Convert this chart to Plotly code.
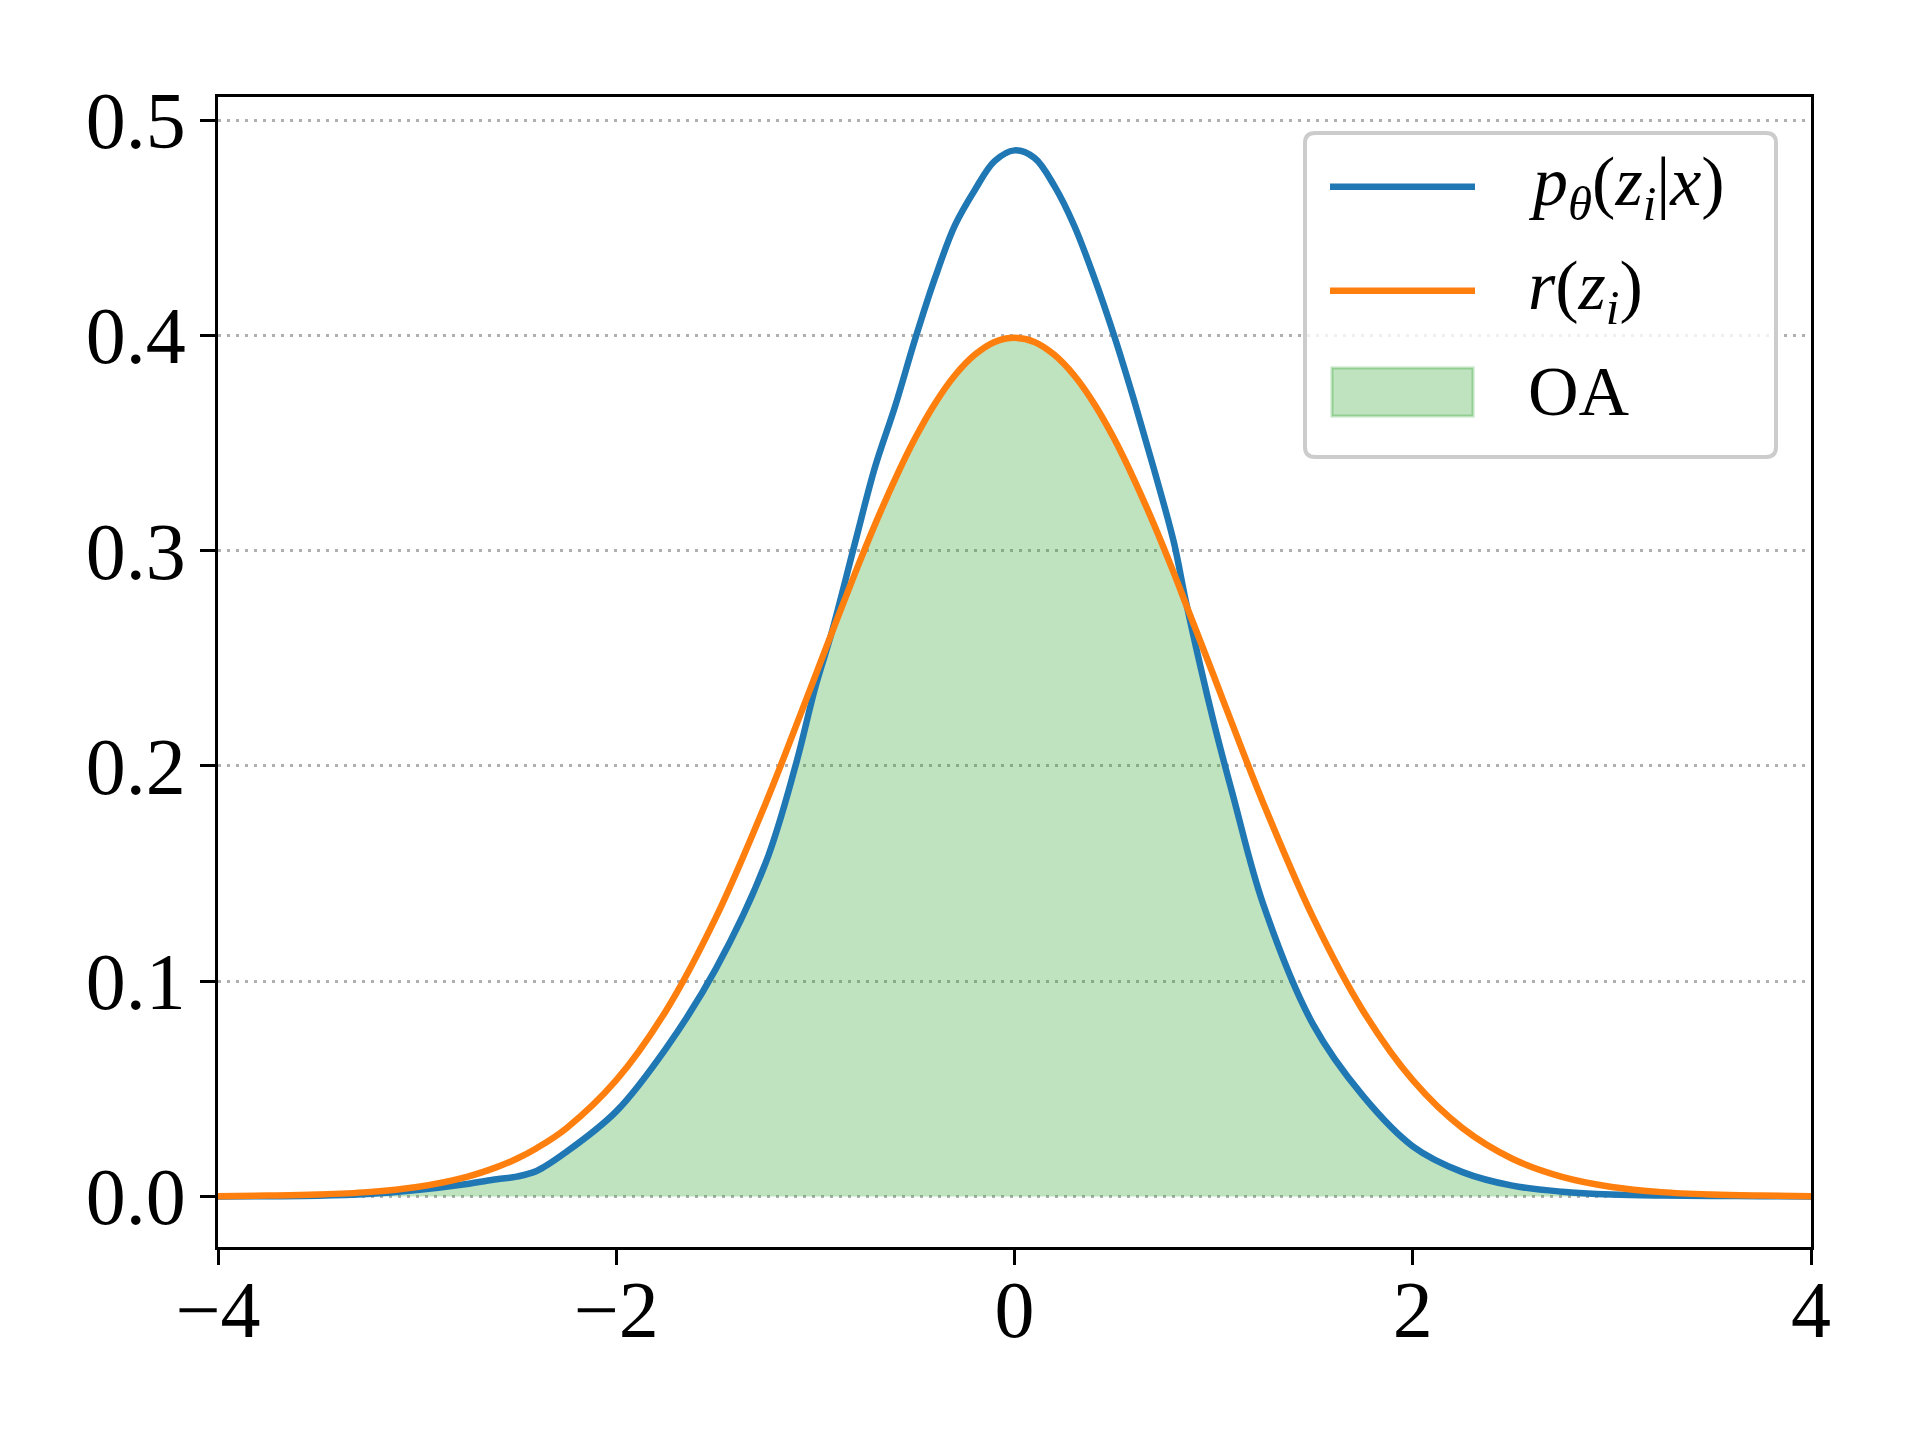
"""Overlapping area between p_theta(z_i|x) and r(z_i)"""

import numpy as np
import plotly.graph_objects as go

# DONNEES
z_grid = [-4.0, -3.75, -3.5, -3.25, -3.0, -2.75, -2.6, -2.5, -2.4, -2.25,
          -2.0, -1.75, -1.5, -1.25, -1.1, -1.0, -0.918, -0.8, -0.7, -0.6,
          -0.5, -0.4, -0.3, -0.2, -0.1, 0.0, 0.1, 0.2, 0.3, 0.4,
          0.5, 0.6, 0.7, 0.8, 0.864, 1.0, 1.1, 1.25, 1.5, 1.75,
          2.0, 2.25, 2.5, 2.75, 3.0, 3.25, 3.5, 3.75, 4.0]

p_theta = [0.0, 0.0001, 0.0003, 0.0011, 0.0030, 0.0058, 0.0080, 0.0092, 0.0118, 0.0207,
           0.0395, 0.0688, 0.1057, 0.1549, 0.2000, 0.2367, 0.2620, 0.3040, 0.3390, 0.3670,
           0.3980, 0.4265, 0.4510, 0.4675, 0.4810, 0.4860, 0.4825, 0.4695, 0.4510, 0.4270,
           0.4000, 0.3700, 0.3380, 0.3040, 0.2750, 0.2205, 0.1853, 0.1355, 0.0798, 0.0467,
           0.0233, 0.0113, 0.0050, 0.0022, 0.0009, 0.0004, 0.0002, 0.0001, 0.0]

r_prior = [0.0001, 0.0004, 0.0009, 0.0020, 0.0044, 0.0091, 0.0136, 0.0175, 0.0224, 0.0317,
           0.0540, 0.0863, 0.1295, 0.1826, 0.2179, 0.2420, 0.2617, 0.2897, 0.3123, 0.3332,
           0.3521, 0.3683, 0.3814, 0.3910, 0.3970, 0.3989, 0.3970, 0.3910, 0.3814, 0.3683,
           0.3521, 0.3332, 0.3123, 0.2897, 0.2744, 0.2420, 0.2179, 0.1826, 0.1295, 0.0863,
           0.0540, 0.0317, 0.0175, 0.0091, 0.0044, 0.0020, 0.0009, 0.0004, 0.0001]

x_ticks = [-4, -2, 0, 2, 4]
x_ticktext = ["\u22124", "\u22122", "0", "2", "4"]
y_ticks = [0.0, 0.1, 0.2, 0.3, 0.4, 0.5]
y_ticktext = ["0.0", "0.1", "0.2", "0.3", "0.4", "0.5"]

legend_labels = ["<i>p</i><sub><i>\u03b8</i></sub>(<i>z<sub>i</sub></i>|<i>x</i>)",
                 "<i>r</i>(<i>z<sub>i</sub></i>)",
                 "OA"]

# CONSTANTES graphiques
blue = "#1f77b4"
orange = "#ff7f0e"
green_fill = "rgba(44,160,44,0.3)"
font_family = "Liberation Serif"
W, H = 1920, 1440
ml, mr, mt, mb = 218, 109, 97, 193

# aire commune = min des deux densites
overlap = np.minimum(np.array(p_theta), np.array(r_prior))

fig = go.Figure()

fig.add_trace(go.Scatter(x=z_grid, y=overlap, mode="lines", name="OA",
                         line=dict(color=green_fill, width=2, shape="spline"),
                         fill="tozeroy", fillcolor=green_fill, showlegend=False))
fig.add_trace(go.Scatter(x=z_grid, y=p_theta, mode="lines", name="p_theta",
                         line=dict(color=blue, width=6.5, shape="spline"),
                         showlegend=False))
fig.add_trace(go.Scatter(x=z_grid, y=r_prior, mode="lines", name="r",
                         line=dict(color=orange, width=6.5, shape="spline"),
                         showlegend=False))


# legende faite a la main (pixels -> paper)
def px2x(px):
    return (px - ml) / (W - ml - mr)


def py2y(py):
    return (H - mb - py) / (H - mt - mb)


x0, x1 = px2x(1305), px2x(1776)
y0, y1 = py2y(457), py2y(133)
rx, ry = 10 / (W - ml - mr), 10 / (H - mt - mb)
box_path = (f"M{x0 + rx},{y1} L{x1 - rx},{y1} Q{x1},{y1} {x1},{y1 - ry} "
            f"L{x1},{y0 + ry} Q{x1},{y0} {x1 - rx},{y0} "
            f"L{x0 + rx},{y0} Q{x0},{y0} {x0},{y0 + ry} "
            f"L{x0},{y1 - ry} Q{x0},{y1} {x0 + rx},{y1} Z")
shapes = [dict(type="path", xref="paper", yref="paper", path=box_path,
               fillcolor="rgba(255,255,255,0.8)", line=dict(color="#cccccc", width=4))]

row_y = [186.7, 290.7, 392]
shapes.append(dict(type="line", xref="paper", yref="paper",
                   x0=px2x(1330), x1=px2x(1475), y0=py2y(row_y[0]), y1=py2y(row_y[0]),
                   line=dict(color=blue, width=6.5)))
shapes.append(dict(type="line", xref="paper", yref="paper",
                   x0=px2x(1330), x1=px2x(1475), y0=py2y(row_y[1]), y1=py2y(row_y[1]),
                   line=dict(color=orange, width=6.5)))
shapes.append(dict(type="rect", xref="paper", yref="paper",
                   x0=px2x(1332), x1=px2x(1473), y0=py2y(416), y1=py2y(368),
                   fillcolor=green_fill, line=dict(color=green_fill, width=3)))

annotations = []
for label, ry_ in zip(legend_labels, row_y):
    annotations.append(dict(text=label, xref="paper", yref="paper",
                            x=px2x(1526), y=py2y(ry_), xanchor="left", yanchor="middle",
                            showarrow=False,
                            font=dict(family=font_family, size=70, color="black")))

fig.update_layout(
    width=W, height=H,
    margin=dict(l=ml, r=mr, t=mt, b=mb),
    paper_bgcolor="white", plot_bgcolor="white",
    font=dict(family=font_family, color="black"),
    shapes=shapes, annotations=annotations,
    showlegend=False,
)

fig.update_xaxes(range=[-4, 4], tickvals=x_ticks, ticktext=x_ticktext,
                 showline=True, mirror=True, linecolor="black", linewidth=3.3,
                 ticks="outside", ticklen=15, tickwidth=3.3, tickcolor="black",
                 showgrid=False, zeroline=False, ticklabelstandoff=-24,
                 tickfont=dict(family=font_family, size=80, color="black"))

fig.update_yaxes(range=[-0.0235, 0.5108], tickvals=y_ticks, ticktext=y_ticktext,
                 showline=True, mirror=True, linecolor="black", linewidth=3.3,
                 ticks="outside", ticklen=15, tickwidth=3.3, tickcolor="black",
                 showgrid=True, gridcolor="#b0b0b0", gridwidth=3, griddash="3px,6px",
                 zeroline=False, ticklabelstandoff=-2,
                 tickfont=dict(family=font_family, size=80, color="black"))

# pas de marge du body pour garder la figure a (0,0), pas de barre d'outils
fig.write_html("out.html", config={"displayModeBar": False},
               post_script="document.body.style.margin='0';")
